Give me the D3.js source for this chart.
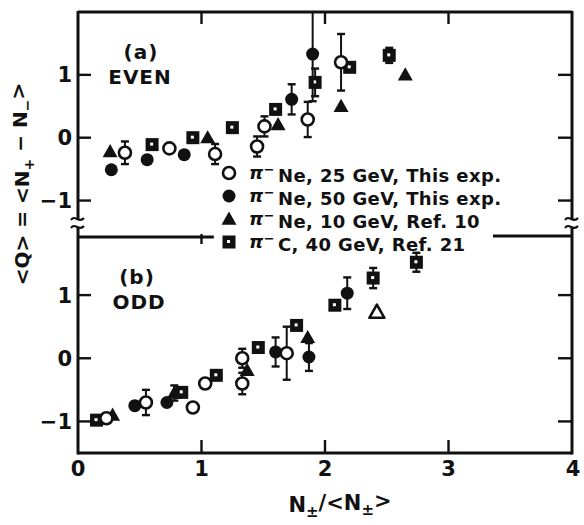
<!DOCTYPE html>
<html>
<head>
<meta charset="utf-8">
<script src="https://cdn.jsdelivr.net/npm/d3@7"></script>
<style>
  body { margin: 0; background: #fff; }
  svg text { font-family: "DejaVu Sans", sans-serif; font-weight: bold; fill: #111; }
</style>
</head>
<body>
<svg id="chart" width="584" height="525"></svg>
<script>
// [x, y, err]; err = 0 means no bar drawn

// (a) EVEN
const evenNe25 = [[0.38, -0.24, 0.18], [0.74, -0.17, 0], [1.11, -0.26, 0.16], [1.45, -0.14, 0.16],
  [1.51, 0.18, 0.16], [1.86, 0.29, 0.28], [2.13, 1.2, 0.45]]
const evenNe50 = [[0.27, -0.51, 0], [0.56, -0.35, 0], [0.86, -0.27, 0], [1.73, 0.61, 0.24], [1.9, 1.33, 0.75]]
const evenNe10 = [[0.26, -0.22, 0], [1.05, 0.0, 0], [1.62, 0.21, 0], [2.13, 0.5, 0], [2.65, 1.0, 0]]
const evenC40 = [[0.6, -0.11, 0], [0.93, 0.0, 0], [1.25, 0.16, 0], [1.6, 0.45, 0], [1.92, 0.88, 0.22],
  [2.2, 1.12, 0], [2.52, 1.31, 0.12]]

// (b) ODD
const oddNe25 = [[0.23, -0.95, 0], [0.55, -0.7, 0.2], [0.93, -0.78, 0], [1.03, -0.4, 0], [1.33, 0.0, 0.15],
  [1.33, -0.4, 0.17], [1.69, 0.08, 0.42]]
const oddNe50 = [[0.46, -0.75, 0], [0.72, -0.7, 0], [1.6, 0.1, 0.23], [1.87, 0.02, 0.22], [2.18, 1.03, 0.25]]
const oddNe10 = [[0.28, -0.9, 0], [0.78, -0.55, 0.12], [1.37, -0.19, 0], [1.86, 0.33, 0], [2.42, 0.73, 0]]
const oddC40 = [[0.15, -0.98, 0], [0.84, -0.54, 0], [1.12, -0.27, 0], [1.46, 0.17, 0], [1.77, 0.52, 0],
  [2.08, 0.84, 0], [2.39, 1.27, 0.16], [2.74, 1.52, 0.15]]
// open triangle only appears once (b)
const oddOpenTri = [[2.42, 0.73, 0]]

const xTicks = [0, 1, 2, 3, 4]
const yTicks = [-1, 0, 1]
const legendLabels = ["Ne, 25 GeV, This exp.", "Ne, 50 GeV, This exp.", "Ne, 10 GeV, Ref. 10", "C, 40 GeV, Ref. 21"]
const legendKinds = ["openCircle", "circle", "triangle", "square"]

const svg = d3.select("#chart")
const L = 78, R = 572, T = 12, MID = 237, B = 453

const x = d3.scaleLinear().domain([0, 4]).range([L, R])
const yA = d3.scaleLinear().domain([-1.58, 2.0]).range([MID, T])
const yB = d3.scaleLinear().domain([-1.5, 1.92]).range([B, MID])

svg.append("defs").append("clipPath").attr("id", "clipA")
  .append("rect").attr("x", L).attr("y", T).attr("width", R - L).attr("height", MID - T)

function drawMarker(g, kind, cx, cy) {
  if (kind === "openCircle") {
    g.append("circle").attr("cx", cx).attr("cy", cy).attr("r", 6)
      .attr("fill", "#fff").attr("stroke", "#111").attr("stroke-width", 2.6)
  } else if (kind === "circle") {
    g.append("circle").attr("cx", cx).attr("cy", cy).attr("r", 6.5).attr("fill", "#111")
  } else if (kind === "triangle" || kind === "openTriangle") {
    const s = 7.5
    const p = `M${cx},${cy - s} L${cx + s},${cy + s * 0.75} L${cx - s},${cy + s * 0.75} Z`
    if (kind === "triangle") g.append("path").attr("d", p).attr("fill", "#111")
    else g.append("path").attr("d", p).attr("fill", "#fff").attr("stroke", "#111")
      .attr("stroke-width", 2.6).attr("stroke-linejoin", "round")
  } else if (kind === "square") {
    g.append("rect").attr("x", cx - 6.5).attr("y", cy - 6.5).attr("width", 13).attr("height", 13)
      .attr("fill", "#111")
    g.append("rect").attr("x", cx - 2).attr("y", cy - 2).attr("width", 3).attr("height", 3)
      .attr("fill", "#fff")
  }
}

function drawSeries(g, data, kind, y) {
  data.forEach(([px, py, e]) => {
    if (e > 0) {
      const cx = x(px)
      g.append("line").attr("x1", cx).attr("x2", cx).attr("y1", y(py - e)).attr("y2", y(py + e))
        .attr("stroke", "#111").attr("stroke-width", 2)
      ;[py - e, py + e].forEach((v) => {
        g.append("line").attr("x1", cx - 4).attr("x2", cx + 4).attr("y1", y(v)).attr("y2", y(v))
          .attr("stroke", "#111").attr("stroke-width", 2.4)
      })
    }
  })
  data.forEach(([px, py]) => drawMarker(g, kind, x(px), y(py)))
}

// frame
const frame = svg.append("g").attr("stroke", "#111").attr("stroke-width", 3).attr("fill", "none")
frame.append("line").attr("x1", L).attr("x2", L).attr("y1", T - 1).attr("y2", B + 1.5)
frame.append("line").attr("x1", R).attr("x2", R).attr("y1", T - 1).attr("y2", B + 1.5)
frame.append("line").attr("x1", L).attr("x2", R).attr("y1", T).attr("y2", T)
frame.append("line").attr("x1", L).attr("x2", R).attr("y1", B).attr("y2", B)
// panel divider, hidden behind legend in the middle
frame.append("line").attr("x1", L).attr("x2", x(1.1)).attr("y1", MID).attr("y2", MID)
frame.append("line").attr("x1", x(3.36)).attr("x2", R).attr("y1", MID - 1).attr("y2", MID - 1)

// ticks
const ticks = svg.append("g").attr("stroke", "#111").attr("stroke-width", 2.4)
;[yA, yB].forEach((y) => {
  yTicks.forEach((v) => {
    ticks.append("line").attr("x1", L).attr("x2", L + 13).attr("y1", y(v)).attr("y2", y(v))
    ticks.append("line").attr("x1", R - 14).attr("x2", R).attr("y1", y(v)).attr("y2", y(v))
  })
})
xTicks.slice(1, 4).forEach((v) => {
  ticks.append("line").attr("x1", x(v)).attr("x2", x(v)).attr("y1", T).attr("y2", T + 12)
  ticks.append("line").attr("x1", x(v)).attr("x2", x(v)).attr("y1", B - 13).attr("y2", B)
})
ticks.append("line").attr("x1", x(1)).attr("x2", x(1)).attr("y1", MID - 3).attr("y2", MID + 7)

// axis breaks
;[L, R].forEach((ax) => {
  svg.append("rect").attr("x", ax - 3).attr("y", 219).attr("width", 6).attr("height", 9).attr("fill", "#fff")
  ;[219, 227].forEach((yy) => {
    svg.append("path")
      .attr("d", `M${ax - 7},${yy + 1} C${ax - 3},${yy - 5} ${ax + 1},${yy + 5} ${ax + 6},${yy - 1}`)
      .attr("fill", "none").attr("stroke", "#111").attr("stroke-width", 2.2)
  })
})

// tick labels
;[yA, yB].forEach((y) => {
  svg.append("g").selectAll("text").data(yTicks).join("text")
    .attr("x", 72).attr("y", (d) => y(d)).attr("dy", "0.36em")
    .attr("text-anchor", "end").attr("font-size", 21)
    .text((d) => (d < 0 ? "\u2212" + Math.abs(d) : d))
})
svg.append("g").selectAll("text").data(xTicks).join("text")
  .attr("x", (d) => x(d) + (d === 4 ? 1 : 0)).attr("y", 476)
  .attr("text-anchor", "middle").attr("font-size", 21)
  .text((d) => d)

// data
const gA = svg.append("g").attr("clip-path", "url(#clipA)")
drawSeries(gA, evenC40, "square", yA)
drawSeries(gA, evenNe10, "triangle", yA)
drawSeries(gA, evenNe50, "circle", yA)
drawSeries(gA, evenNe25, "openCircle", yA)

const gB = svg.append("g")
drawSeries(gB, oddC40, "square", yB)
drawSeries(gB, oddNe10, "triangle", yB)
drawSeries(gB, oddOpenTri, "openTriangle", yB)
drawSeries(gB, oddNe50, "circle", yB)
drawSeries(gB, oddNe25, "openCircle", yB)

// panel labels
const panelLabel = (tx, ty, s) => svg.append("text").attr("x", tx).attr("y", ty)
  .attr("text-anchor", "middle").attr("font-size", 20).attr("letter-spacing", 1).text(s)
panelLabel(141, 59, "(a)")
panelLabel(140, 84, "EVEN")
panelLabel(137, 284, "(b)")
panelLabel(139, 309, "ODD")

// legend
const legendY = [173, 196, 219, 242]
const leg = svg.append("g")
legendLabels.forEach((lab, i) => {
  drawMarker(leg, legendKinds[i], 229, legendY[i])
  const t = leg.append("text").attr("x", 249).attr("y", legendY[i]).attr("dy", "0.36em")
    .attr("font-size", 18).attr("letter-spacing", 0.4)
  t.append("tspan").attr("font-style", "italic").text("\u03c0")
  t.append("tspan").attr("dy", "-0.45em").attr("font-size", 13).text("\u2212")
  t.append("tspan").attr("dy", "0.45em").attr("dx", "3").text(lab)
})

// axis titles
const xt = svg.append("text").attr("x", 340).attr("y", 512).attr("text-anchor", "middle").attr("font-size", 21)
xt.append("tspan").text("N")
xt.append("tspan").attr("dy", "0.3em").attr("font-size", 15).text("\u00b1")
xt.append("tspan").attr("dy", "-0.3em").text("/<N")
xt.append("tspan").attr("dy", "0.3em").attr("font-size", 15).text("\u00b1")
xt.append("tspan").attr("dy", "-0.3em").text(">")

const yt = svg.append("text").attr("transform", "translate(29,184) rotate(-90)")
  .attr("text-anchor", "middle").attr("font-size", 20)
yt.append("tspan").text("<Q> = <N")
yt.append("tspan").attr("dy", "0.35em").attr("font-size", 14).text("+")
yt.append("tspan").attr("dy", "-0.35em").text(" \u2212 N")
yt.append("tspan").attr("dy", "0.35em").attr("font-size", 14).text("\u2212")
yt.append("tspan").attr("dy", "-0.35em").text(">")
</script>
</body>
</html>
